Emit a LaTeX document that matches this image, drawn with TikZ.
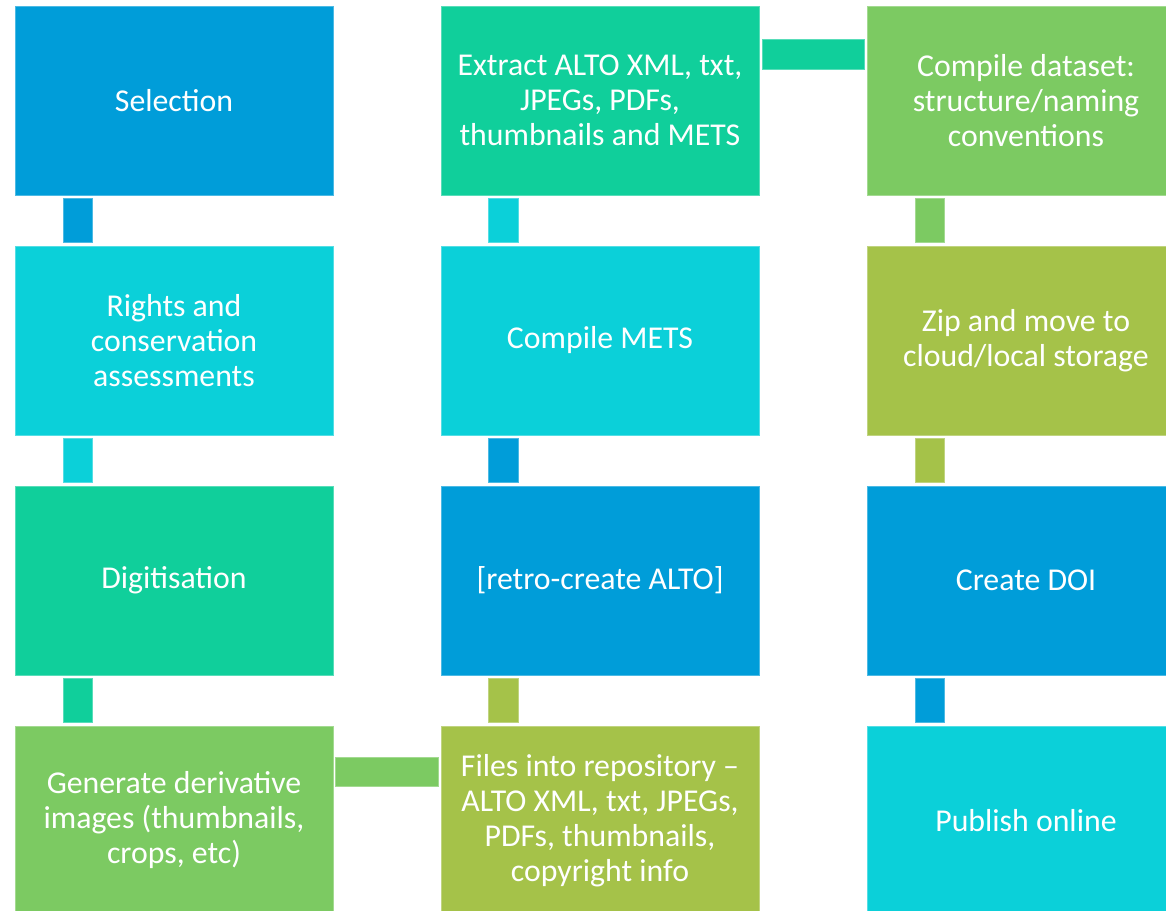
\documentclass[tikz,border=0pt]{standalone}
\usepackage{fontspec}
\setmainfont{Carlito}
\usetikzlibrary{calc}
\definecolor{cBlue}{HTML}{009DD9}
\definecolor{cCyan}{HTML}{0BD0D9}
\definecolor{cTeal}{HTML}{10CF9B}
\definecolor{cGreen}{HTML}{7CCA62}
\definecolor{cOlive}{HTML}{A5C249}
\tikzset{
  stepbox/.style={rectangle, minimum width=318pt, minimum height=189pt, inner sep=0pt,
    text=white, align=center, fill=#1, draw=#1!70!white, line width=0.8pt,
    font=\fontsize{31.8}{35}\selectfont},
  linkbar/.style={fill=#1, draw=#1!70!white, line width=0.6pt}
}
\begin{document}
\begin{tikzpicture}[x=1pt,y=-1pt]
\useasboundingbox (0,0) rectangle (1166,910);
\clip (0,0) rectangle (1166,910);
% column 1
\node[stepbox=cBlue]  (sel) at (174,100.5) {Selection};
\node[stepbox=cCyan]  (rig) at (174,340.5) {Rights and\\conservation\\assessments};
\node[stepbox=cTeal]  (dig) at (174,580.5) {Digitisation};
\node[stepbox=cGreen] (gen) at (174,820.5) {Generate derivative\\images (thumbnails,\\crops, etc)};
% column 2
\node[stepbox=cTeal]  (ext) at (600,100.5) {Extract ALTO XML, txt,\\JPEGs, PDFs,\\thumbnails and METS};
\node[stepbox=cCyan]  (met) at (600,340.5) {Compile METS};
\node[stepbox=cBlue]  (ret) at (600,580.5) {[retro-create ALTO]};
\node[stepbox=cOlive] (fil) at (600,820.5) {Files into repository –\\ALTO XML, txt, JPEGs,\\PDFs, thumbnails,\\copyright info};
% column 3
\node[stepbox=cGreen] (com) at (1026,100.5) {Compile dataset:\\structure/naming\\conventions};
\node[stepbox=cOlive] (zip) at (1026,340.5) {Zip and move to\\cloud/local storage};
\node[stepbox=cBlue]  (doi) at (1026,580.5) {Create DOI};
\node[stepbox=cCyan]  (pub) at (1026,820.5) {Publish online};
% connectors column 1
\draw[linkbar=cBlue]  ($(sel.south west)+(49,3)$) rectangle ($(rig.north west)+(78,-3)$);
\draw[linkbar=cCyan]  ($(rig.south west)+(49,3)$) rectangle ($(dig.north west)+(78,-3)$);
\draw[linkbar=cTeal]  ($(dig.south west)+(49,3)$) rectangle ($(gen.north west)+(78,-3)$);
% bottom horizontal
\draw[linkbar=cGreen] ($(gen.north east)+(2,32)$) rectangle ($(fil.north west)+(-2,61)$);
% connectors column 2 (upwards)
\draw[linkbar=cOlive] ($(ret.south west)+(48,3)$) rectangle ($(fil.north west)+(78,-3)$);
\draw[linkbar=cBlue]  ($(met.south west)+(48,3)$) rectangle ($(ret.north west)+(78,-3)$);
\draw[linkbar=cCyan]  ($(ext.south west)+(48,3)$) rectangle ($(met.north west)+(78,-3)$);
% top horizontal
\draw[linkbar=cTeal]  ($(ext.north east)+(3,34)$) rectangle ($(com.north west)+(-2,64)$);
% connectors column 3
\draw[linkbar=cGreen] ($(com.south west)+(49,3)$) rectangle ($(zip.north west)+(78,-3)$);
\draw[linkbar=cOlive] ($(zip.south west)+(49,3)$) rectangle ($(doi.north west)+(78,-3)$);
\draw[linkbar=cBlue]  ($(doi.south west)+(49,3)$) rectangle ($(pub.north west)+(78,-3)$);
\end{tikzpicture}
\end{document}
